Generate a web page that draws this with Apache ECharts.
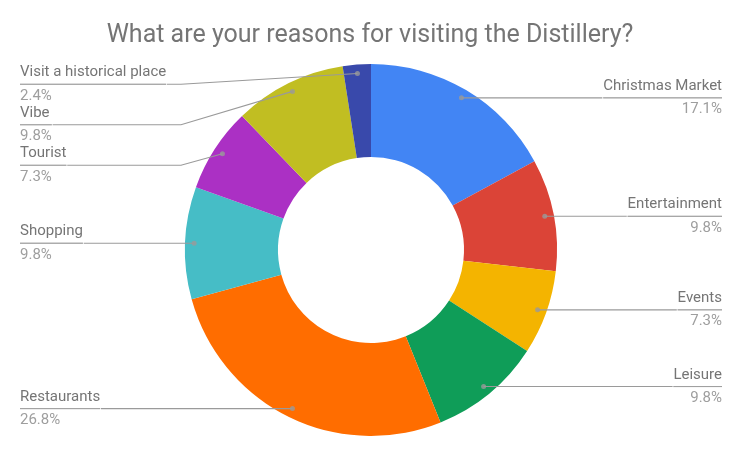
<!DOCTYPE html>
<html><head><meta charset="utf-8">
<script src="https://cdn.jsdelivr.net/npm/echarts@6/dist/echarts.min.js"></script>
<style>html,body{margin:0;padding:0;background:#fff}#c{width:740px;height:452px}</style>
</head><body><div id="c"></div>
<script>
// ---- data ----
const chartTitle = 'What are your reasons for visiting the Distillery?';
const categories = ['Christmas Market','Entertainment','Events','Leisure','Restaurants','Shopping','Tourist','Vibe','Visit a historical place'];
const responses = [7, 4, 3, 4, 11, 4, 3, 4, 1];
const sliceColors = ['#4285F4','#DB4437','#F4B400','#0F9D58','#FF6D00','#46BDC6','#AB30C4','#C1BE22','#3949AB'];
// labels that are stacked under the title (top-left group)
const stackedGroup = ['Tourist','Vibe','Visit a historical place'];

// ---- layout constants ----
const CX = 371, CY = 250, R0 = 93, R1 = 186, DOT_R = 177;
const BOX_LEFT = 2, EDGE = 18, STACK_TOP = 64, BEND_X = 181;
const LINE_COLOR = '#9a9a9a';
const FS = 15, LH = 23.5;

const total = responses.reduce((a, b) => a + b, 0);
const mids = [];
{ let acc = 0; responses.forEach(v => { mids.push(acc + v / 2); acc += v; }); }

const chart = echarts.init(document.getElementById('c'), null, {renderer: 'canvas'});

function labelSeries(inGroup, boxTop, bend) {
  const s = {
    type: 'pie', silent: true, z: 3,
    left: BOX_LEFT, right: 0, top: boxTop, bottom: 0,
    center: [CX - BOX_LEFT, CY - boxTop], radius: [0, DOT_R],
    startAngle: 90, clockwise: true,
    itemStyle: {color: 'rgba(0,0,0,0)'},
    emphasis: {disabled: true},
    label: {
      position: 'outside', alignTo: 'edge', edgeDistance: EDGE, distanceToLabelLine: 0,
      fontFamily: 'Roboto',
      formatter: p => '{n|' + p.name + '}\n{hr|}\n{p|' + (p.value / total * 100).toFixed(1) + '%}',
      rich: {
        n: {fontSize: FS, color: '#757575', lineHeight: LH, fontFamily: 'Roboto'},
        hr: {width: '100%', height: 0, borderWidth: 0.8, borderColor: LINE_COLOR},
        p: {fontSize: FS, color: '#9e9e9e', lineHeight: LH, fontFamily: 'Roboto'}
      }
    },
    labelLine: {show: true, length: 0, length2: 0, smooth: false, lineStyle: {color: LINE_COLOR, width: 1.1}},
    data: categories.map((c, i) => {
      const on = inGroup(c);
      return {name: c, value: responses[i], label: {show: on}, labelLine: {show: on}};
    })
  };
  s.labelLayout = function (params) {
    const pts = params.labelLinePoints;
    if (!pts || pts.length < 3) return {};
    const p0 = pts[0], p2 = pts[2];
    // Google-style guide: straight horizontal run, bent once toward the slice
    let bx = p0[0];
    if (bend && p2[0] < CX) bx = Math.max(p2[0], BEND_X);
    return {labelLinePoints: [p0, [bx, p2[1]], p2]};
  };
  return s;
}

chart.setOption({
  animation: false,
  title: {
    text: chartTitle, left: 'center', top: 18,
    textStyle: {fontSize: 25, fontWeight: 'normal', color: '#757575', fontFamily: 'Roboto'}
  },
  polar: {center: [CX, CY], radius: R1},
  angleAxis: {type: 'value', min: 0, max: total, startAngle: 90, clockwise: true, show: false},
  radiusAxis: {type: 'value', min: 0, max: R1, show: false},
  series: [
    {
      type: 'pie', silent: true, z: 1,
      center: [CX, CY], radius: [R0, R1], startAngle: 90, clockwise: true,
      label: {show: false}, labelLine: {show: false},
      data: categories.map((c, i) => ({name: c, value: responses[i], itemStyle: {color: sliceColors[i]}}))
    },
    labelSeries(c => stackedGroup.indexOf(c) >= 0, STACK_TOP, true),
    labelSeries(c => stackedGroup.indexOf(c) < 0, 0, false),
    {
      type: 'scatter', coordinateSystem: 'polar', silent: true, z: 4,
      symbol: 'circle', symbolSize: 5, itemStyle: {color: '#9a9a9a'},
      data: mids.map(m => [DOT_R, m])
    }
  ]
});
</script></body></html>
